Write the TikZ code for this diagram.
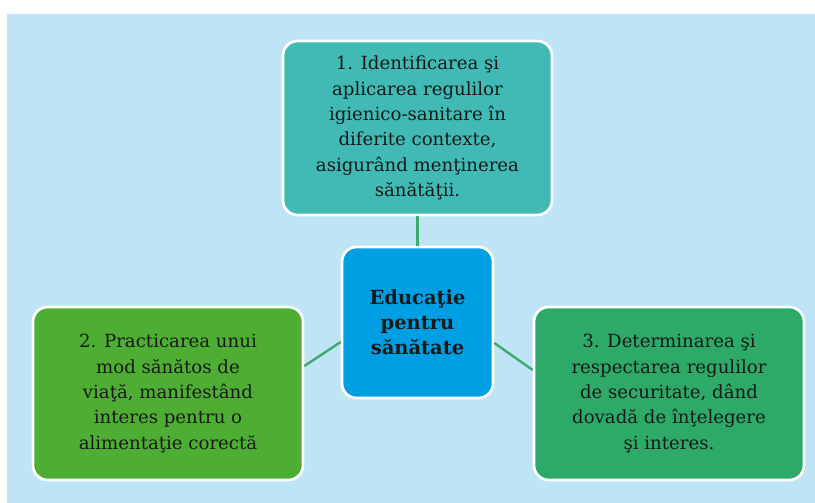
\documentclass[tikz,border=0pt]{standalone}
\usepackage{fontspec}
\setmainfont{DejaVu Serif}
\usetikzlibrary{calc}
\definecolor{bgblue}{RGB}{190,228,246}
\definecolor{teal1}{RGB}{65,186,181}
\definecolor{green1}{RGB}{78,174,51}
\definecolor{green2}{RGB}{46,170,104}
\definecolor{blue1}{RGB}{0,159,227}
\definecolor{linegreen}{RGB}{61,170,111}
\tikzset{
  box/.style={draw=white, line width=2pt, rounded corners=11pt, align=center,
    inner sep=0pt, text=black!90, font=\fontsize{13.6}{19}\selectfont},
  link/.style={draw=linegreen, line width=1.8pt}
}
\begin{document}
\begin{tikzpicture}[x=0.75pt,y=-0.75pt]
\useasboundingbox (0,0) rectangle (815,503);
\fill[bgblue] (7,14) rectangle (815,503);
\node[box, fill=teal1, minimum width=269*0.75pt, minimum height=174*0.75pt] (top) at (417.5,128)
  {1. Identificarea şi\\aplicarea regulilor\\igienico-sanitare în\\diferite contexte,\\asigurând menţinerea\\sănătăţii.};
\node[box, fill=blue1, minimum width=151*0.75pt, minimum height=151*0.75pt, font=\fontsize{14.6}{18.75}\selectfont\bfseries] (center) at (417.5,322.5)
  {Educaţie\\pentru\\sănătate};
\node[box, fill=green1, minimum width=270*0.75pt, minimum height=173*0.75pt] (left) at (168,393.5)
  {2. Practicarea unui\\mod sănătos de\\viaţă, manifestând\\interes pentru o\\alimentaţie corectă};
\node[box, fill=green2, minimum width=270*0.75pt, minimum height=173*0.75pt] (right) at (669,393.5)
  {3. Determinarea şi\\respectarea regulilor\\de securitate, dând\\dovadă de înţelegere\\şi interes.};
\draw[link] (top.south) -- (center.north);
\draw[link] ($(left.east)+(0,-27.5)$) -- ($(center.west)+(0,19.5)$);
\draw[link] ($(center.east)+(0,20.5)$) -- ($(right.west)+(0,-23.5)$);
\end{tikzpicture}
\end{document}
